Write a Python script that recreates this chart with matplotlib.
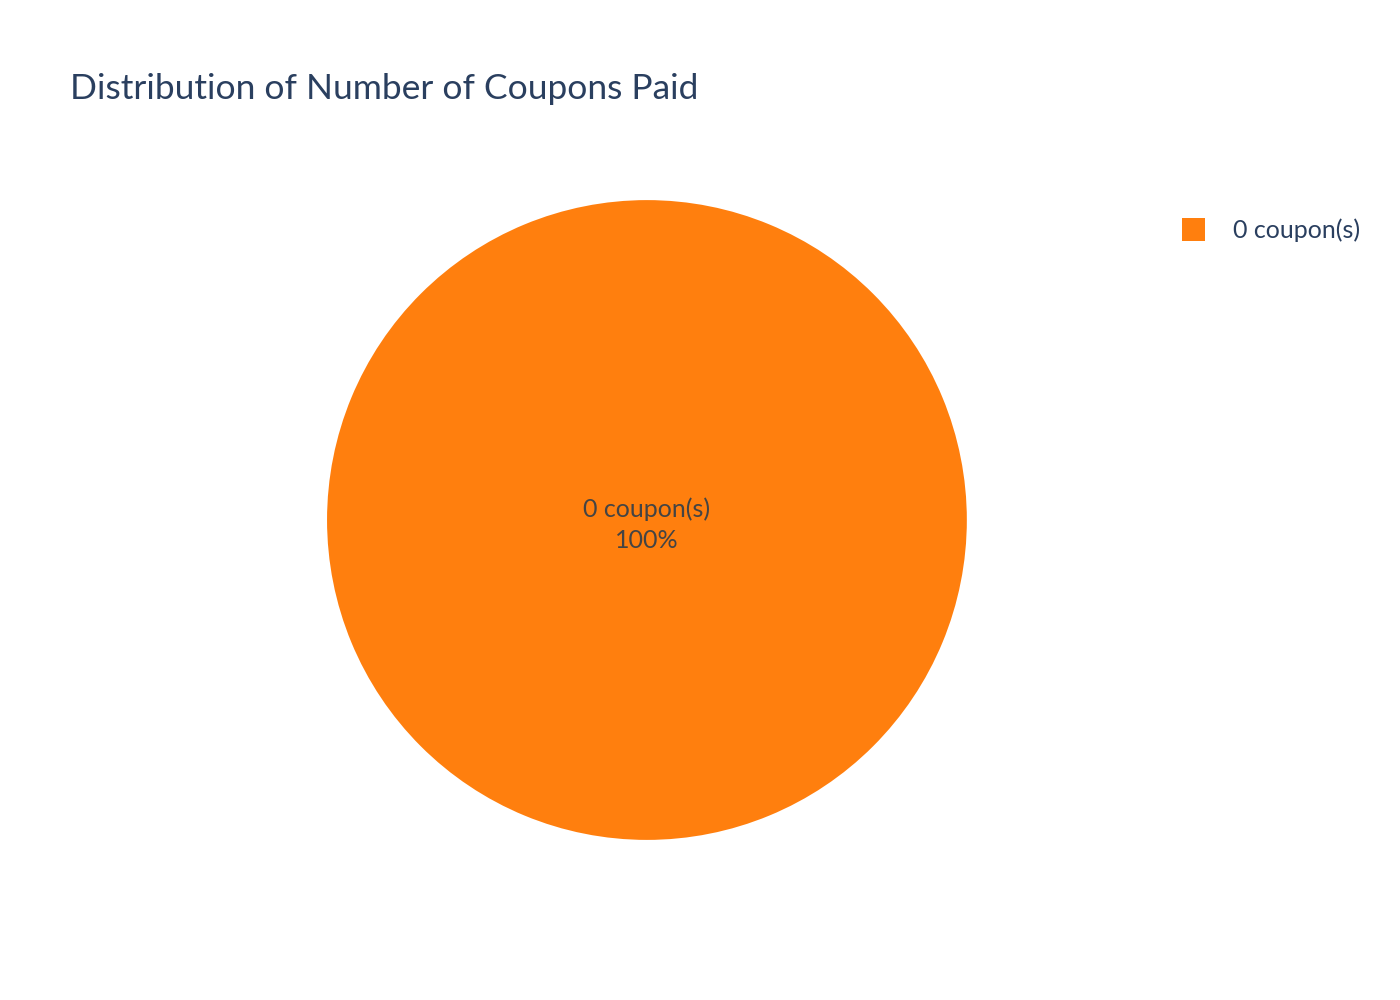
import matplotlib
matplotlib.use("Agg")
from matplotlib import pyplot as plt
from matplotlib.patches import Rectangle

plt.rcParams['font.family'] = ['Lato', 'DejaVu Sans']

categories = ["0 coupon(s)"]
counts = [1]
colors = ["#FF7F0E"]
title = "Distribution of Number of Coupons Paid"
text_color = "#2a3f5f"

fig = plt.figure(figsize=(14, 10), dpi=100)

# pie area: centre ~ (647, 520) px, radius ~ 320 px
ax = fig.add_axes([0.2336, 0.16, 0.457, 0.64])
wedges, _ = ax.pie(counts, colors=colors, startangle=90, counterclock=False,
                   radius=1.0, wedgeprops={"linewidth": 0})
ax.set_xlim(-1, 1)
ax.set_ylim(-1, 1)
ax.set_aspect("equal")
ax.axis("off")

total = sum(counts)
for cat, n in zip(categories, counts):
    pct = 100 * n / total
    ax.text(0, -0.015, f"{cat}\n{pct:.0f}%", ha="center", va="center",
            fontsize=18, color="#444444", linespacing=1.4)

fig.text(70 / 1400, 1 - 89 / 1000, title, fontsize=25.5, color=text_color,
         ha="left", va="center")

# legend
for i, (cat, c) in enumerate(zip(categories, colors)):
    y = 1 - (230 + i * 30) / 1000
    fig.patches.append(Rectangle((1182 / 1400, y - 0.0115), 23 / 1400, 0.023,
                                 transform=fig.transFigure, facecolor=c,
                                 edgecolor="none"))
    fig.text(1233 / 1400, y, cat, fontsize=18, color=text_color,
             ha="left", va="center")

fig.savefig("out.png", dpi=100, facecolor="white")
